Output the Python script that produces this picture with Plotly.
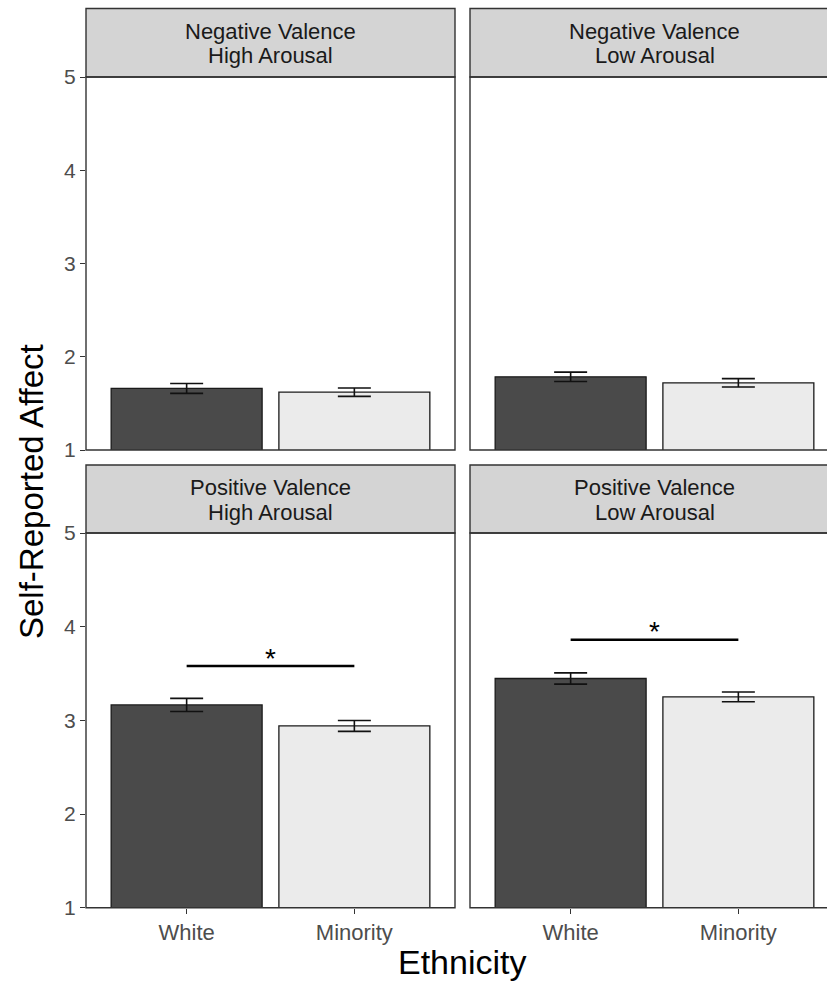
import plotly.graph_objects as go

# ---------------- data ----------------
ethnicity = ["White", "Minority"]
strip_line1 = ["Negative Valence", "Negative Valence", "Positive Valence", "Positive Valence"]
strip_line2 = ["High Arousal", "Low Arousal", "High Arousal", "Low Arousal"]

nv_ha_mean = [1.66, 1.62]
nv_ha_se = [0.053, 0.045]
nv_la_mean = [1.785, 1.72]
nv_la_se = [0.05, 0.045]
pv_ha_mean = [3.165, 2.94]
pv_ha_se = [0.07, 0.058]
pv_la_mean = [3.447, 3.25]
pv_la_se = [0.06, 0.052]

panel_means = [nv_ha_mean, nv_la_mean, pv_ha_mean, pv_la_mean]
panel_ses = [nv_ha_se, nv_la_se, pv_ha_se, pv_la_se]
sig_line_y = [None, None, 3.58, 3.86]
sig_label = "*"

y_ticks = [1, 2, 3, 4, 5]
bar_colors = ["#4a4a4a", "#ebebeb"]

# ---------------- layout helpers ----------------
W, H = 827, 983
def px(x):
    return x / W
def py(y):
    return 1 - y / H

unit = 369 / 2.2  # px per category unit
col_x = [(86, 455), (470, 839)]
row_y = [(77, 450), (533, 907.7)]
strip_y = [(8.5, 77), (465, 533)]

fig = go.Figure()
layout_axes = {}
shapes = []
annotations = []
font_family = "Liberation Sans, Arial, sans-serif"

for i in range(4):
    r, c = divmod(i, 2)
    n = "" if i == 0 else str(i + 1)
    xa, ya = "x" + n, "y" + n
    x0, x1 = col_x[c]
    y0, y1 = row_y[r]
    vis_x1 = min(x1, W)
    xr1 = -0.6 + (vis_x1 - x0) / unit
    layout_axes["xaxis" + n] = dict(
        domain=[px(x0), px(vis_x1)], range=[-0.6, xr1], type="category",
        categoryorder="array", categoryarray=ethnicity,
        showgrid=False, zeroline=False, showline=False, anchor=ya,
        ticks="outside" if r == 1 else "", ticklen=5, tickwidth=1.3, tickcolor="#333333",
        showticklabels=(r == 1),
        tickfont=dict(family=font_family, size=22, color="#4d4d4d"),
        fixedrange=True,
    )
    layout_axes["yaxis" + n] = dict(
        domain=[py(y1), py(y0)], range=[1, 5], anchor=xa,
        showgrid=False, zeroline=False, showline=False,
        tickvals=y_ticks, ticktext=[str(t) for t in y_ticks],
        ticks="outside" if c == 0 else "", ticklen=5, tickwidth=1.3, tickcolor="#333333",
        showticklabels=(c == 0),
        tickfont=dict(family=font_family, size=21, color="#4d4d4d"),
        fixedrange=True,
    )
    fig.add_trace(go.Bar(
        x=ethnicity, y=panel_means[i], width=0.9, xaxis=xa, yaxis=ya,
        marker=dict(color=bar_colors, line=dict(color="#1a1a1a", width=1.3)),
        error_y=dict(type="data", array=panel_ses[i], color="#111111", thickness=1.6, width=16.5),
        showlegend=False,
    ))
    if sig_line_y[i] is not None:
        fig.add_trace(go.Scatter(
            x=ethnicity, y=[sig_line_y[i], sig_line_y[i]], mode="lines", xaxis=xa, yaxis=ya,
            line=dict(color="#000000", width=2.6), showlegend=False, hoverinfo="skip",
        ))
        annotations.append(dict(
            x=0.5, y=sig_line_y[i], xref=xa, yref=ya, text=sig_label, showarrow=False,
            xanchor="center", yanchor="middle", yshift=8,
            font=dict(family=font_family, size=28, color="#000000"),
        ))
    # panel border
    shapes.append(dict(type="rect", xref="paper", yref="paper",
                       x0=px(x0), x1=px(x1), y0=py(y1), y1=py(y0),
                       line=dict(color="#333333", width=1.4), fillcolor="rgba(0,0,0,0)", layer="above"))
    # strip
    sy0, sy1 = strip_y[r]
    shapes.append(dict(type="rect", xref="paper", yref="paper",
                       x0=px(x0), x1=px(x1), y0=py(sy1), y1=py(sy0),
                       line=dict(color="#333333", width=1.4), fillcolor="#d4d4d4", layer="below"))
    cx = (x0 + x1) / 2
    annotations.append(dict(x=px(cx), y=py(sy0 + 22.5), xref="paper", yref="paper",
                            text=strip_line1[i], showarrow=False, xanchor="center", yanchor="middle",
                            font=dict(family=font_family, size=22, color="#1a1a1a")))
    annotations.append(dict(x=px(cx), y=py(sy0 + 47), xref="paper", yref="paper",
                            text=strip_line2[i], showarrow=False, xanchor="center", yanchor="middle",
                            font=dict(family=font_family, size=22, color="#1a1a1a")))

annotations.append(dict(x=px(32), y=py(492), xref="paper", yref="paper", text="Self-Reported Affect",
                        textangle=-90, showarrow=False, xanchor="center", yanchor="middle",
                        font=dict(family=font_family, size=33, color="#000000")))
annotations.append(dict(x=px(462), y=py(962), xref="paper", yref="paper", text="Ethnicity",
                        showarrow=False, xanchor="center", yanchor="middle",
                        font=dict(family=font_family, size=34, color="#000000")))

fig.update_layout(
    width=W, height=H,
    margin=dict(l=0, r=0, t=0, b=0, autoexpand=False),
    paper_bgcolor="white", plot_bgcolor="white",
    shapes=shapes, annotations=annotations,
    bargap=0.1,
    **layout_axes,
)

fig.write_html(
    "out.html",
    config={"displayModeBar": False},
    post_script="document.body.style.margin='0';document.body.style.padding='0';document.body.style.overflow='hidden';",
)
